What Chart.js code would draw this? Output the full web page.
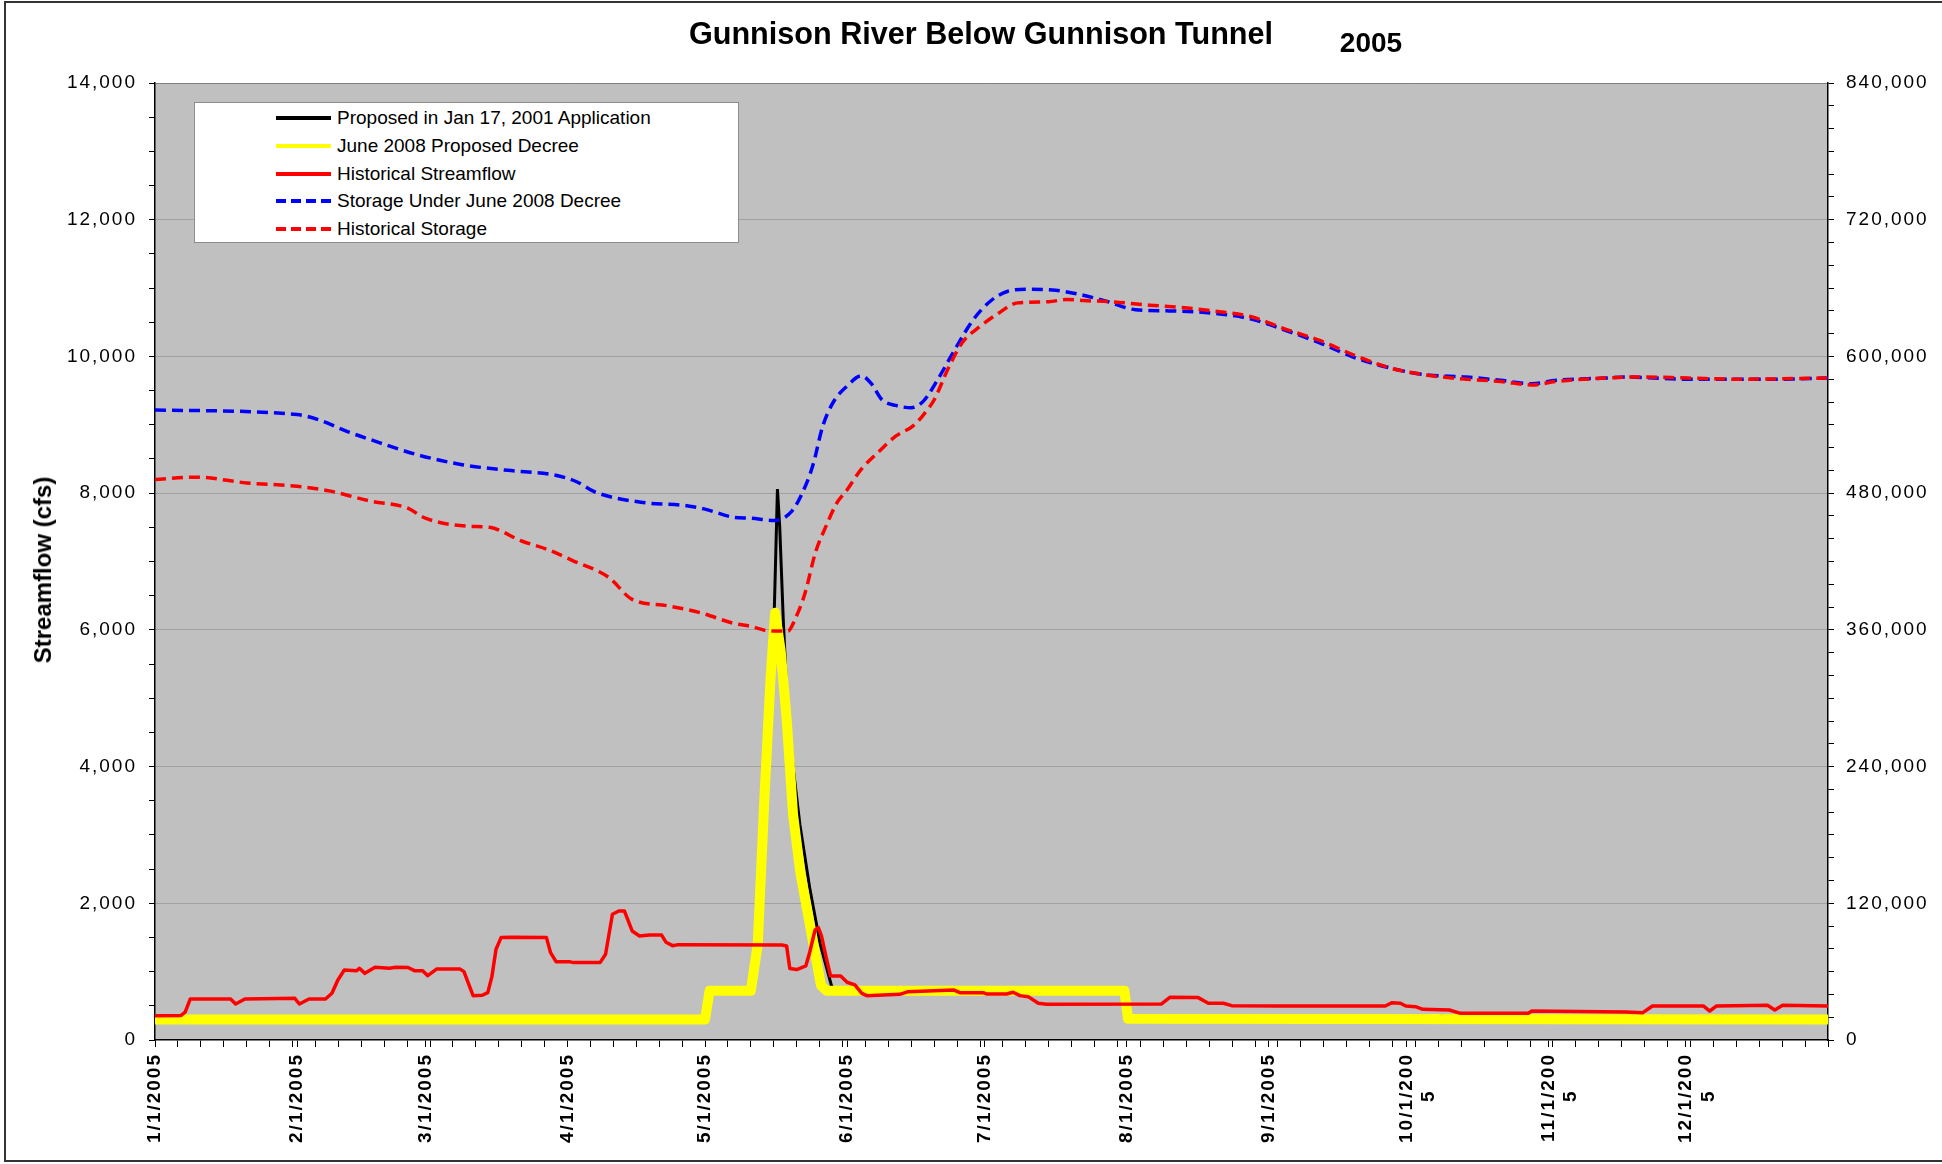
<!DOCTYPE html>
<html>
<head>
<meta charset="utf-8">
<title>Gunnison River Below Gunnison Tunnel 2005</title>
<script src="https://cdn.jsdelivr.net/npm/chart.js@4.4.1/dist/chart.umd.min.js"></script>
<style>
    html, body { margin: 0; padding: 0; background: #fff; overflow: hidden; }
    #wrap { position: relative; width: 1942px; height: 1164px; overflow: hidden; font-family: "Liberation Sans", Arial, sans-serif; color: #000; }
    #chart { position: absolute; left: 0; top: 0; }
    #frame { position: absolute; left: 4px; top: 1px; width: 2000px; height: 1157px; border: 2px solid #333; pointer-events: none; }
    .heading { position: absolute; font-weight: bold; white-space: nowrap; transform: translateX(-50%); }
    #title { left: 981px; top: 15px; font-size: 30.6px; line-height: 36px; }
    #year { left: 1371px; top: 26px; font-size: 28px; line-height: 34px; }
    #yTitle { position: absolute; left: 43px; top: 570px; font-weight: bold; font-size: 24px; line-height: 28px; white-space: nowrap; transform: translate(-50%, -50%) rotate(-90deg); }
    #legend { position: absolute; left: 194px; top: 102px; width: 545px; height: 141px; box-sizing: border-box; background: #fff; border: 1px solid #8c8c8c; }
    .legend-row { position: absolute; left: 81px; height: 26px; line-height: 26px; font-size: 19px; white-space: nowrap; display: flex; align-items: center; }
    .legend-row svg { margin-right: 6px; }
</style>
</head>
<body>
<div id="wrap">
    <canvas id="chart" width="1942" height="1164"></canvas>
    <div id="title" class="heading">Gunnison River Below Gunnison Tunnel</div>
    <div id="year" class="heading">2005</div>
    <div id="yTitle">Streamflow (cfs)</div>
    <div id="legend"></div>
    <div id="frame"></div>
</div>
<script>
// x = day of year (1/1/2005 = 0)
const monthStartDays = [0, 31, 59, 90, 120, 151, 181, 212, 243, 273, 304, 334];
// wrapped labels: trailing spaces keep the "5" centred under the first line, as in the source chart
const monthLabels = ['1/1/2005', '2/1/2005', '3/1/2005', '4/1/2005', '5/1/2005', '6/1/2005',
    '7/1/2005', '8/1/2005', '9/1/2005', ['10/1/200', '5     '], ['11/1/200', '5     '], ['12/1/200', '5     ']];

// Proposed in Jan 17, 2001 Application (cfs)
const proposedDays = [0, 120, 121, 130, 131.5, 133, 134.3, 135.1, 135.8, 136.3, 137.1, 137.9, 139.2, 140.7, 142.9, 145.1, 147.6, 148.5, 211.5, 212.3, 365];
const proposedCfs = [300, 300, 720, 720, 1400, 3600, 5300, 6250, 8060, 7500, 6100, 5000, 4000, 3150, 2200, 1410, 790, 720, 720, 310, 300];

// June 2008 Proposed Decree (cfs)
const decreeDays = [0, 120, 121, 130, 131.5, 133, 134.3, 135.3, 136.5, 137.8, 139.2, 140.8, 143, 145.3, 146.5, 211.5, 212.3, 365];
const decreeCfs = [300, 300, 720, 720, 1400, 3600, 5300, 6250, 5700, 4700, 3300, 2450, 1640, 800, 720, 720, 310, 300];

// Historical Streamflow (cfs)
const histFlowDays = [0, 5.7, 6.6, 7.7, 16.5, 17.6, 19.6, 30.5, 31.5, 33.6, 37.2, 38.6, 39.9, 41.3, 44, 44.6, 45.8, 48, 51.2, 52.5,
    55.2, 56.6, 58.4, 59.5, 61.5, 66.5, 67.4, 69.4, 71.4, 72.6, 73.5, 74.4, 75.5, 77.7, 85.4, 86.3, 87.5, 90.4, 91.3, 97.1,
    98.3, 99.8, 101.2, 102.4, 104.1, 105.7, 107.9, 110.5, 111.5, 112.9, 114.2, 136.8, 137.8, 138.5, 140, 142, 142.9, 144, 144.7, 145.4,
    146.5, 147.4, 149.6, 151, 152.7, 154.2, 155.3, 162.5, 164.3, 174.2, 175.6, 180.7, 181.4, 185.8, 187.2, 188.7, 190.5, 192.7, 194.5, 219.6,
    221.4, 227.6, 229.8, 233.1, 234.9, 245.4, 268.4, 269.9, 271.7, 272.9, 275, 276.6, 282.4, 284.8, 299.6, 300.4, 320.9, 324.6, 326.7, 337.8,
    339.2, 340.7, 351.8, 353.4, 355.1, 365];
const histFlowCfs = [356, 360, 410, 600, 600, 527, 600, 610, 527, 600, 600, 683, 878, 1024, 1014, 1049, 975, 1063, 1049, 1063,
    1060, 1014, 1014, 941, 1040, 1040, 1000, 649, 654, 693, 927, 1327, 1498, 1503, 1498, 1278, 1146, 1146, 1132, 1132,
    1254, 1839, 1888, 1888, 1595, 1522, 1537, 1537, 1429, 1380, 1395, 1390, 1376, 1047, 1030, 1086, 1299, 1607, 1646, 1523,
    1187, 935, 935, 845, 805, 683, 649, 668, 707, 732, 693, 693, 673, 673, 698, 649, 634, 537, 522, 527,
    624, 620, 537, 537, 502, 498, 498, 546, 537, 498, 488, 449, 439, 390, 390, 424, 410, 400, 498, 498,
    424, 498, 507, 439, 507, 498];

// Storage Under June 2008 Decree (af)
const decreeStorageDays = [0, 31, 36, 42, 47, 57, 67, 77, 87, 92, 96, 106, 116, 120, 126, 130, 135.1, 138.9, 141.2, 143.5,
    145.7, 148, 151, 154.1, 156.3, 158.6, 161.6, 165, 167.7, 170.8, 174.5, 178.3, 182.1, 185.9, 190.5, 196.5, 201.1, 207.1, 213.9, 220.8,
    230.6, 239, 246.6, 254.1, 261.7, 269.3, 276.9, 286, 293.6, 300.4, 305.7, 316.3, 320.9, 327, 334.5, 345.1, 354.2, 365];
const decreeStorageAf = [553000, 549000, 544000, 534000, 527000, 514000, 505000, 500000, 496000, 490000, 481000, 472000, 469000, 466000, 459000, 458000, 456000, 464000, 480000, 504000,
    539000, 560000, 574000, 583000, 576000, 562000, 557000, 555000, 561000, 580000, 606000, 631000, 648000, 657000, 659000, 658000, 655000, 649000, 641000, 640000,
    638000, 633000, 623000, 612000, 599000, 590000, 584000, 582000, 579000, 576000, 579000, 581000, 582000, 581000, 580000, 580000, 580000, 581000];

// Historical Storage (af)
const histStorageDays = [0, 9, 20, 31, 38, 47, 55, 59, 68, 73, 80, 86, 91, 99, 104, 112, 119, 126, 130, 134.3,
    138.1, 139.6, 141.8, 144.1, 146.4, 148.7, 151, 154.1, 157.8, 161.6, 165.4, 167.7, 170, 173, 176.1, 179.9, 183.7, 188.2, 195, 198.8,
    202.6, 208.7, 217, 223.8, 230.6, 239, 246.6, 254.1, 261.7, 269.3, 276.9, 286, 293.6, 300.4, 305.7, 316.3, 323.9, 334.5, 345.1, 365];
const histStorageAf = [492000, 494000, 489000, 486000, 482000, 473000, 467000, 458000, 451000, 450000, 438000, 430000, 421000, 406000, 387000, 381000, 375000, 366000, 363000, 359000,
    359000, 369000, 392000, 428000, 451000, 471000, 483000, 501000, 516000, 530000, 539000, 549000, 562000, 589000, 612000, 626000, 637000, 647000, 648000, 650000,
    649000, 648000, 645000, 643000, 640000, 635000, 624000, 614000, 601000, 590000, 584000, 580000, 578000, 575000, 578000, 581000, 582000, 581000, 580000, 581000];

const FONT = '"Liberation Sans", Arial, sans-serif';

function toPoints(days, values) {
    return days.map((d, i) => ({ x: d, y: values[i] }));
}

// 축 눈금: 월 시작 + 5일 간격 보조 눈금
function buildDayTicks() {
    const set = new Set(monthStartDays);
    for (let d = 0; d <= 365; d += 5) set.add(d);
    set.add(365);
    return Array.from(set).sort((a, b) => a - b).map(v => ({ value: v }));
}

// 배경 + 글자 간격
const plotBackground = {
    id: 'plotBackground',
    beforeLayout(chart) { chart.ctx.letterSpacing = '2px'; },
    beforeDraw(chart) {
        const { ctx, chartArea } = chart;
        ctx.letterSpacing = '2px';
        ctx.save();
        ctx.fillStyle = '#c0c0c0';
        ctx.fillRect(chartArea.left, chartArea.top, chartArea.right - chartArea.left, chartArea.bottom - chartArea.top);
        ctx.restore();
    }
};

const datasets = [
    {
        label: 'Proposed in Jan 17, 2001 Application',
        data: toPoints(proposedDays, proposedCfs),
        borderColor: '#000000', borderWidth: 3, yAxisID: 'y', order: 5
    },
    {
        label: 'June 2008 Proposed Decree',
        data: toPoints(decreeDays, decreeCfs),
        borderColor: '#ffff00', borderWidth: 10, yAxisID: 'y', order: 4,
        borderCapStyle: 'round', borderJoinStyle: 'round'
    },
    {
        label: 'Historical Streamflow',
        data: toPoints(histFlowDays, histFlowCfs),
        borderColor: '#ff0000', borderWidth: 3.5, yAxisID: 'y', order: 3,
        borderJoinStyle: 'round'
    },
    {
        label: 'Storage Under June 2008 Decree',
        data: toPoints(decreeStorageDays, decreeStorageAf),
        borderColor: '#0000ff', borderWidth: 3.5, borderDash: [11, 6], yAxisID: 'y2', order: 2,
        cubicInterpolationMode: 'monotone'
    },
    {
        label: 'Historical Storage',
        data: toPoints(histStorageDays, histStorageAf),
        borderColor: '#ff0000', borderWidth: 3.5, borderDash: [11, 6], yAxisID: 'y2', order: 1,
        cubicInterpolationMode: 'monotone'
    }
];

function renderLegend(items) {
    const box = document.getElementById('legend');
    items.forEach((ds, i) => {
        const row = document.createElement('div');
        row.className = 'legend-row';
        row.style.top = (2 + i * 27.8) + 'px';
        const dash = ds.borderDash ? 'stroke-dasharray="10 5"' : '';
        row.innerHTML = '<svg width="55" height="10"><line x1="0" y1="5" x2="55" y2="5" stroke="' + ds.borderColor +
            '" stroke-width="4" ' + dash + '/></svg><span>' + ds.label + '</span>';
        box.appendChild(row);
    });
}

function renderChart() {
    const ctx = document.getElementById('chart').getContext('2d');
    new Chart(ctx, {
        type: 'line',
        data: { datasets: datasets },
        options: {
            responsive: false,
            animation: false,
            layout: { padding: { top: 83, left: 0, right: 0, bottom: 0 } },
            elements: { point: { radius: 0 }, line: { tension: 0 } },
            plugins: { legend: { display: false }, tooltip: { enabled: false } },
            scales: {
                x: {
                    type: 'linear', min: 0, max: 365,
                    afterBuildTicks: scale => { scale.ticks = buildDayTicks(); },
                    afterFit: scale => { scale.height = 124; },
                    ticks: {
                        autoSkip: false, minRotation: 90, maxRotation: 90, padding: 6, color: '#000',
                        font: { family: FONT, size: 19, weight: 'bold' },
                        callback: value => {
                            const i = monthStartDays.indexOf(value);
                            return i >= 0 ? monthLabels[i] : '';
                        }
                    },
                    grid: { drawOnChartArea: false, tickLength: 7, tickColor: '#000' },
                    border: { color: '#000', width: 1.5 }
                },
                y: {
                    position: 'left', min: 0, max: 14000,
                    afterFit: scale => { scale.width = 155; },
                    ticks: {
                        stepSize: 500, maxTicksLimit: 1000, autoSkip: false, padding: 12, color: '#000',
                        font: { family: FONT, size: 19 },
                        callback: value => value % 2000 === 0 ? value.toLocaleString('en-US') : ''
                    },
                    grid: {
                        tickLength: 6, tickColor: '#000',
                        color: c => (c.tick && c.tick.value % 2000 === 0 && c.tick.value > 0) ? (c.tick.value === 14000 ? '#808080' : '#a0a0a0') : 'rgba(0,0,0,0)'
                    },
                    border: { color: '#000', width: 1.5 }
                },
                y2: {
                    position: 'right', min: 0, max: 840000,
                    afterFit: scale => { scale.width = 114; },
                    ticks: {
                        stepSize: 20000, maxTicksLimit: 1000, autoSkip: false, padding: 12, color: '#000',
                        font: { family: FONT, size: 19 },
                        callback: value => value % 120000 === 0 ? value.toLocaleString('en-US') : ''
                    },
                    grid: { drawOnChartArea: false, tickLength: 6, tickColor: '#000' },
                    border: { color: '#000', width: 1.5 }
                }
            }
        },
        plugins: [plotBackground]
    });
}

renderLegend(datasets);
renderChart();
</script>
</body>
</html>
